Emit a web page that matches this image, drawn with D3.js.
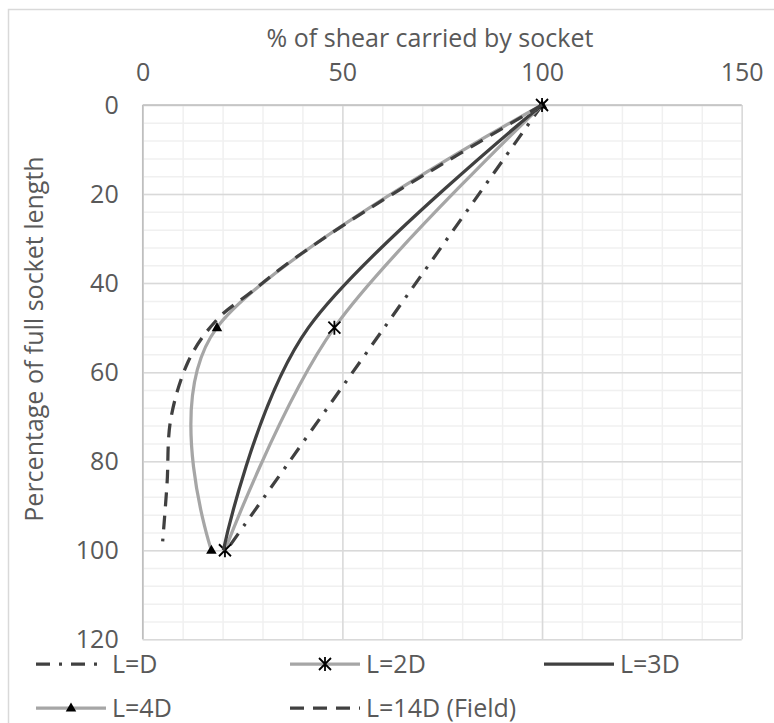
<!DOCTYPE html>
<html>
<head>
<meta charset="utf-8">
<script src="https://cdn.jsdelivr.net/npm/d3@7"></script>
<style>
  body { margin: 0; background: #fff; }
  svg text { font-family: "Open Sans", "Noto Sans", sans-serif; fill: #595959; }
</style>
</head>
<body>
<svg id="chart" width="774" height="723"></svg>
<script>
// axis ticks
var xTicks = [0, 50, 100, 150];
var yTicks = [0, 20, 40, 60, 80, 100, 120];

// depth (% of socket length) for the modelled series
var depthPts = [0, 50, 100];
// % of shear carried by socket
var shearLD  = [100, 60.5, 21];
var shear2D  = [100, 48, 20.6];
var shear3D  = [100, 41.5, 20.2];
var shear4D  = [100, 18.6, 17.2];

// field measurement
var fieldDepth = [0, 20, 33.4, 42, 48.3, 57.6, 70.7, 85, 98];
var fieldShear = [100, 62.6, 39.7, 27.2, 18.5, 11.4, 7, 6.1, 5];

var seriesNames = ["L=D", "L=2D", "L=3D", "L=4D", "L=14D (Field)"];

var pairs = function(xs, ys) { return xs.map(function(v, i) { return [v, ys[i]]; }); };

var series = [
  { name: seriesNames[0], pts: pairs(shearLD, depthPts), color: "#404040", dash: "14,9,3,9", marker: null },
  { name: seriesNames[1], pts: pairs(shear2D, depthPts), color: "#a6a6a6", dash: null, marker: "star" },
  { name: seriesNames[2], pts: pairs(shear3D, depthPts), color: "#404040", dash: null, marker: null },
  { name: seriesNames[3], pts: pairs(shear4D, depthPts), color: "#a6a6a6", dash: null, marker: "tri" },
  { name: seriesNames[4], pts: pairs(fieldShear, fieldDepth), color: "#404040", dash: "14,9", marker: null }
];

var fs = 25;
var svg = d3.select("#chart");

// chart outer border (only top and left fall inside the picture)
svg.append("rect")
  .attr("x", 8.5).attr("y", 9.5).attr("width", 900).attr("height", 900)
  .attr("fill", "none").attr("stroke", "#d9d9d9").attr("stroke-width", 1.5);

var x = d3.scaleLinear().domain([0, 150]).range([142.7, 741.7]);
var y = d3.scaleLinear().domain([0, 120]).range([105, 639.3]);
var w = x(150) - x(0), h = y(120) - y(0);

var grid = svg.append("g");

// minor gridlines
grid.append("g")
  .attr("transform", "translate(0," + y(0) + ")")
  .call(d3.axisBottom(x).tickValues(d3.range(0, 151, 10)).tickSize(h).tickFormat(""))
  .call(function(g) { g.select(".domain").remove(); g.selectAll("line").attr("stroke", "#f0f0f0").attr("stroke-width", 1.5); });
grid.append("g")
  .attr("transform", "translate(" + x(0) + ",0)")
  .call(d3.axisRight(y).tickValues(d3.range(0, 121, 4)).tickSize(w).tickFormat(""))
  .call(function(g) { g.select(".domain").remove(); g.selectAll("line").attr("stroke", "#f0f0f0").attr("stroke-width", 1.5); });

// major gridlines
grid.append("g")
  .attr("transform", "translate(0," + y(0) + ")")
  .call(d3.axisBottom(x).tickValues(xTicks).tickSize(h).tickFormat(""))
  .call(function(g) { g.select(".domain").remove(); g.selectAll("line").attr("stroke", "#d9d9d9").attr("stroke-width", 1.5); });
grid.append("g")
  .attr("transform", "translate(" + x(0) + ",0)")
  .call(d3.axisRight(y).tickValues(yTicks).tickSize(w).tickFormat(""))
  .call(function(g) { g.select(".domain").remove(); g.selectAll("line").attr("stroke", "#d9d9d9").attr("stroke-width", 1.5); });

// axis lines
svg.append("line").attr("x1", x(0)).attr("x2", x(150)).attr("y1", y(0)).attr("y2", y(0))
  .attr("stroke", "#bfbfbf").attr("stroke-width", 1.5);
svg.append("line").attr("x1", x(0)).attr("x2", x(0)).attr("y1", y(0)).attr("y2", y(120))
  .attr("stroke", "#bfbfbf").attr("stroke-width", 1.5);

// tick labels
svg.append("g")
  .attr("transform", "translate(0," + y(0) + ")")
  .call(d3.axisTop(x).tickValues(xTicks).tickSize(0).tickPadding(24.5))
  .call(function(g) {
    g.select(".domain").remove();
    g.selectAll("text").attr("font-size", fs).attr("font-family", null).attr("fill", "#595959");
  });
svg.append("g")
  .attr("transform", "translate(" + x(0) + ",0)")
  .call(d3.axisLeft(y).tickValues(yTicks).tickSize(0).tickPadding(24))
  .call(function(g) {
    g.select(".domain").remove();
    g.selectAll("text").attr("font-size", fs).attr("font-family", null).attr("fill", "#595959");
  });

// axis titles
svg.append("text").attr("x", 430).attr("y", 46.5).attr("text-anchor", "middle")
  .attr("font-size", fs).text("% of shear carried by socket");
svg.append("text").attr("transform", "translate(43,339) rotate(-90)").attr("text-anchor", "middle")
  .attr("font-size", fs).text("Percentage of full socket length");

// lines
var line = d3.line()
  .x(function(d) { return x(d[0]); })
  .y(function(d) { return y(d[1]); })
  .curve(d3.curveCardinal.tension(0));

var starPath = "M-6,-6L6,6M-6,6L6,-6M0,-7L0,7";
var triPath = d3.symbol(d3.symbolTriangle, 48)();

function drawMarker(g, type, cx, cy) {
  if (type === "star") {
    g.append("path").attr("d", starPath).attr("transform", "translate(" + cx + "," + cy + ")")
      .attr("fill", "none").attr("stroke", "#000").attr("stroke-width", 1.8);
  } else if (type === "tri") {
    g.append("path").attr("d", triPath).attr("transform", "translate(" + cx + "," + (cy + 0.5) + ")")
      .attr("fill", "#000");
  }
}

var plot = svg.append("g");
series.forEach(function(s) {
  plot.append("path")
    .attr("d", line(s.pts))
    .attr("fill", "none")
    .attr("stroke", s.color)
    .attr("stroke-width", 3.25)
    .attr("stroke-dasharray", s.dash);
  if (s.marker) {
    s.pts.forEach(function(p) { drawMarker(plot, s.marker, x(p[0]), y(p[1])); });
  }
});

// legend
var legX = [36, 290, 544];
var legY = [664, 708];
var legend = svg.append("g");
series.forEach(function(s, i) {
  var lx = legX[i % 3], ly = legY[Math.floor(i / 3)];
  legend.append("line")
    .attr("x1", lx).attr("x2", lx + 70).attr("y1", ly).attr("y2", ly)
    .attr("stroke", s.color).attr("stroke-width", 3.25)
    .attr("stroke-dasharray", s.dash);
  if (s.marker) drawMarker(legend, s.marker, lx + 35, ly);
  legend.append("text").attr("x", lx + 76).attr("y", ly).attr("dy", "0.36em")
    .attr("font-size", fs).text(s.name);
});
</script>
</body>
</html>
